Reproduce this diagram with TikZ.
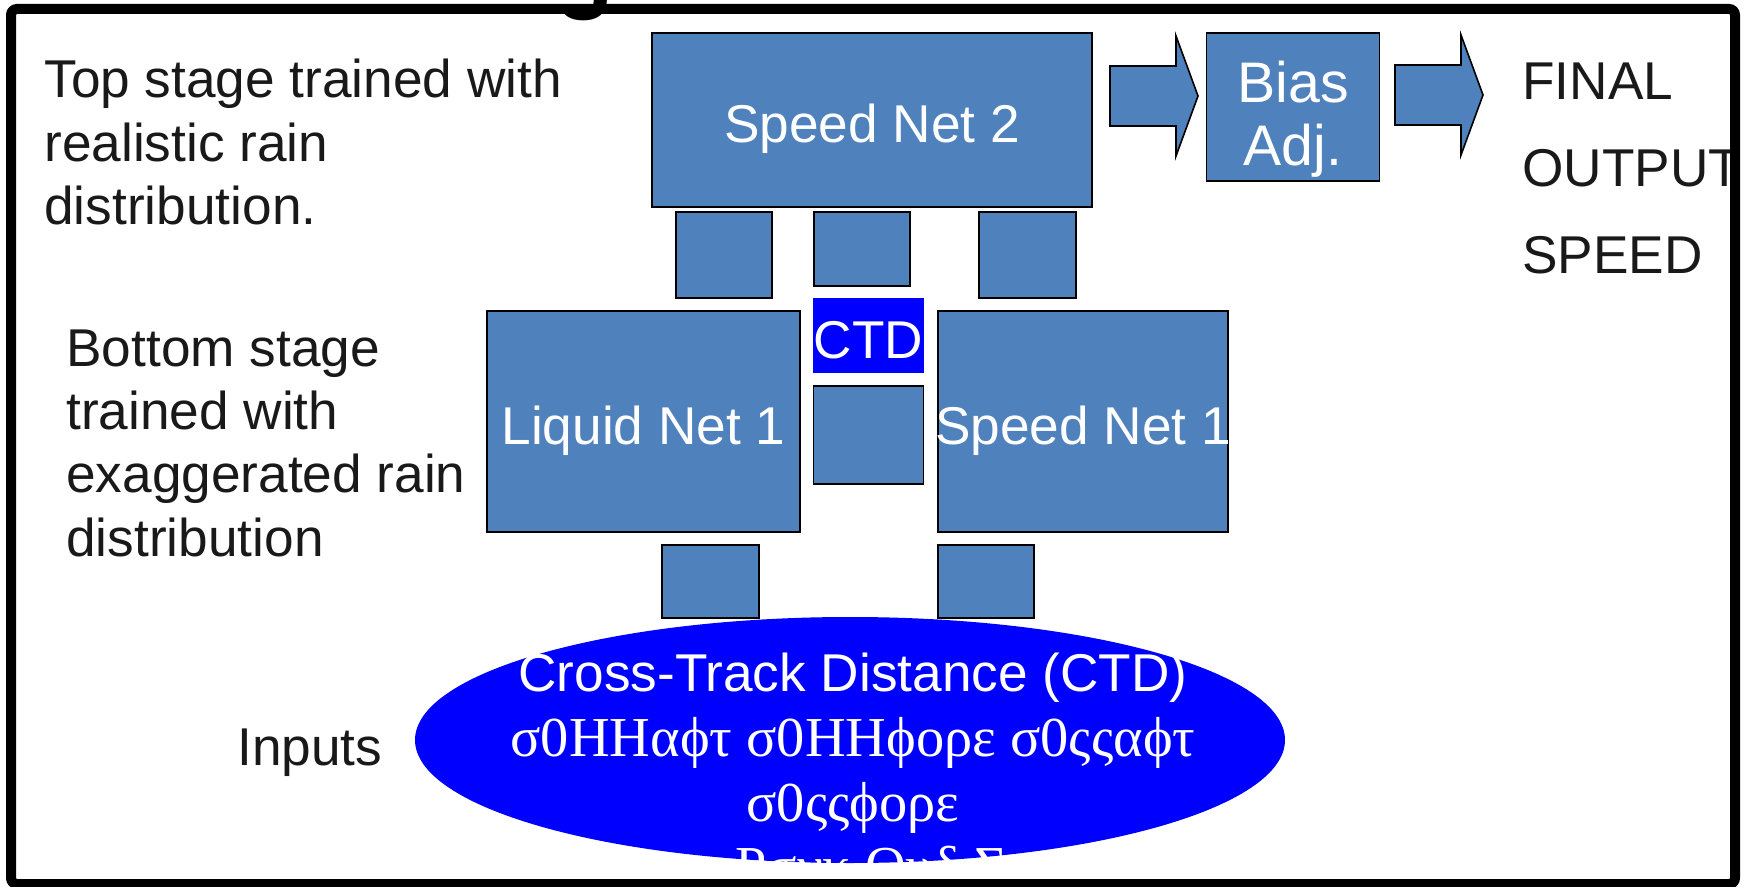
\documentclass[tikz,border=0pt]{standalone}
\usepackage{fontspec}
\setmainfont{Liberation Sans}
\newfontfamily\greekfont{Liberation Serif}
\usetikzlibrary{shapes.geometric, positioning}

\definecolor{netblue}{RGB}{79,129,189}
\definecolor{ctdblue}{RGB}{0,0,255}
\newcommand{\slide}{\fontsize{26.6}{31.7}\selectfont}
\newcommand{\greek}{\greekfont\fontsize{28.2}{31.7}\selectfont}
% fat block arrow, started at the middle of its tail
\newcommand{\blockarrow}[1]{%
  \draw[arr] #1 ++(0,-30) -- ++(66,0) -- ++(0,-30) -- ++(22,60)
    -- ++(-22,60) -- ++(0,-30) -- ++(-66,0) -- cycle;}

\begin{document}
\begin{tikzpicture}[x=0.5pt, y=-0.5pt,
    every node/.style={font=\slide, inner sep=0pt},
    net/.style={draw=black, line width=0.8pt, fill=netblue},
    lbl/.style={text=white, text height=19pt, text depth=0pt, yshift=-2pt},
    note/.style={anchor=north west, align=left, text=black!90},
    arr/.style={draw=black, line width=0.8pt, fill=netblue}]
  \useasboundingbox (0,0) rectangle (1744,887);

  % heading, mostly above the page
  \node[font=\fontsize{48}{56}\selectfont\bfseries, anchor=base west] (ttl) at (555,1) {g};

  % inputs
  \node[ellipse, fill=ctdblue, minimum width=435pt, minimum height=123pt] (inp) at (850,740) {};
  \node[text=white, align=center, anchor=north] (inptxt) at (853,653)
    {Cross-Track Distance (CTD)\\[0.6pt]
     {\greek σ0ΗΗαϕτ σ0ΗΗϕορε σ0ςςαϕτ}\\[0.6pt]
     {\greek σ0ςςϕορε}\\[0.6pt]
     {\greek τ Ρσνκ Ουδ Σ}};

  % bottom stage
  \node[net, minimum width=156.5pt, minimum height=110.5pt,
        label={[lbl]center:Liquid Net 1}] (ln1) at (643.5,421.5) {};
  \node[net, minimum width=145pt, minimum height=110.5pt,
        label={[lbl]center:Speed Net 1}] (sn1) at (1083,421.5) {};
  \node[net, minimum width=48.5pt, minimum height=36.5pt] (lnin) at (710.5,581.5) {};
  \node[net, minimum width=48pt, minimum height=36.5pt] (snin) at (986,581.5) {};
  \node[fill=ctdblue, minimum width=55.5pt, minimum height=37.5pt,
        label={[lbl]center:CTD}] (ctd) at (868.5,335.5) {};
  \node[net, minimum width=55pt, minimum height=49pt, below=6pt of ctd] (ctdin) {};

  % top stage
  \node[net, minimum width=220pt, minimum height=87pt,
        label={[lbl]center:Speed Net 2}] (sn2) at (872,120) {};
  \node[net, minimum width=48pt, minimum height=43pt] (in1) at (724,255) {};
  \node[net, minimum width=48pt, minimum height=37pt] (in2) at (862,249) {};
  \node[net, minimum width=48.5pt, minimum height=43pt] (in3) at (1027.5,255) {};
  \node[net, minimum width=86.5pt, minimum height=74pt, right=56.5pt of sn2.north east, anchor=north west,
        label={[text=white, align=center, yshift=-6pt,
                font=\fontsize{28.6}{31.7}\selectfont]center:{Bias\\Adj.}}] (bias) {};
  \blockarrow{(1110,96)}
  \blockarrow{(1395,95)}

  % notes
  \node[note] (topnote) at (44,59) {Top stage trained with\\realistic rain\\distribution.};
  \node[note] (botnote) at (66,329) {Bottom stage\\trained with\\exaggerated rain\\distribution};
  \node[anchor=base west, text=black!90] (inlbl) at (237,765) {Inputs};
  \node[note, font=\fontsize{26.6}{43.5}\selectfont] (final) at (1522,62.5) {FINAL\\OUTPUT\\SPEED};

  % frame
  \draw[line width=5pt, rounded corners=3pt] (11,9) rectangle (1735,884);
\end{tikzpicture}
\end{document}
